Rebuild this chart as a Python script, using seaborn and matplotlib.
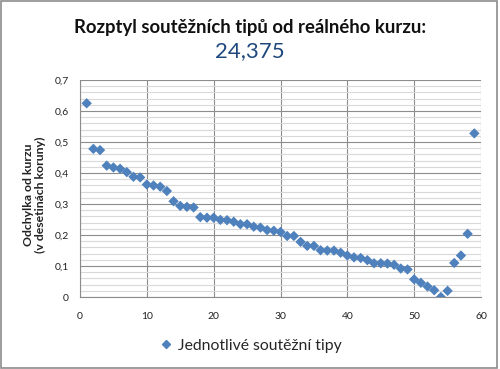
import matplotlib
matplotlib.use("Agg")
import matplotlib.pyplot as plt
import seaborn as sns
import pandas as pd
import numpy as np
from matplotlib.ticker import MultipleLocator, FuncFormatter
from matplotlib.patches import Rectangle

title = "Rozptyl soutěžních tipů od reálného kurzu:"
subtitle = "24,375"
series_name = "Jednotlivé soutěžní tipy"
y_label = "Odchylka od kurzu\n(v desetinách koruny)"

tip_index = list(range(1, 60))
deviation = [0.625, 0.478, 0.474, 0.424, 0.418, 0.414, 0.403, 0.388, 0.386, 0.363,
             0.360, 0.356, 0.342, 0.309, 0.294, 0.291, 0.289, 0.258, 0.256, 0.256,
             0.249, 0.248, 0.243, 0.235, 0.235, 0.227, 0.224, 0.216, 0.214, 0.210,
             0.197, 0.197, 0.178, 0.165, 0.165, 0.151, 0.150, 0.150, 0.143, 0.134,
             0.128, 0.126, 0.119, 0.109, 0.109, 0.108, 0.104, 0.092, 0.089, 0.057,
             0.046, 0.034, 0.022, 0.000, 0.020, 0.110, 0.134, 0.204, 0.528]

df = pd.DataFrame({"tip": tip_index, "odchylka": deviation, "serie": series_name})

sns.set_theme(style="white")
plt.rcParams['font.family'] = ['Lato', 'DejaVu Sans']

fig = plt.figure(figsize=(5, 3.69), dpi=100)
ax = fig.add_axes([0.16, 0.195, 0.802, 0.588])

color = "#4F81BD"
sns.scatterplot(data=df, x="tip", y="odchylka", hue="serie", palette=[color],
                marker="D", s=28, edgecolor=color, linewidth=0, ax=ax, legend=False, zorder=3)

ax.set_xlim(0, 60)
ax.set_ylim(0, 0.7)
ax.xaxis.set_major_locator(MultipleLocator(10))
ax.yaxis.set_major_locator(MultipleLocator(0.1))
ax.yaxis.set_minor_locator(MultipleLocator(0.02))
ax.grid(which="major", axis="both", color="#8C8C8C", linewidth=0.8)
ax.grid(which="minor", axis="y", color="#D9D9D9", linewidth=0.8)
ax.set_axisbelow(True)

fmt = FuncFormatter(lambda v, p: ("%g" % round(v, 2)).replace(".", ","))
ax.yaxis.set_major_formatter(fmt)
ax.tick_params(axis="both", which="major", labelsize=7.5, length=4, width=0.8,
               color="#8C8C8C", direction="out", labelcolor="#222222", pad=4)
ax.tick_params(axis="both", which="minor", length=0)
ax.tick_params(axis="x", pad=7)

for side in ["top", "right"]:
    ax.spines[side].set_visible(False)
for side in ["left", "bottom"]:
    ax.spines[side].set_color("#8C8C8C")
    ax.spines[side].set_linewidth(0.8)

ax.set_xlabel("")
ax.set_ylabel(y_label, fontsize=8.8, fontweight="bold", color="#222222",
              linespacing=1.15)
ax.yaxis.set_label_coords(-0.085, 0.47)

fig.text(0.5, 0.925, title, ha="center", va="center", fontsize=13.3, fontweight="bold",
         color="#111111")
fig.text(0.5, 0.862, subtitle, ha="center", va="center", fontsize=16, color="#1F497D")

handle = plt.Line2D([], [], marker="D", linestyle="none", color=color, markersize=4)
fig.legend([handle], [series_name], loc="center", bbox_to_anchor=(0.5, 0.063),
           frameon=False, fontsize=11.3, handletextpad=0.3, handlelength=1.0)

fig.patches.append(Rectangle((0.002, 0.003), 0.992, 0.994, transform=fig.transFigure,
                             fill=False, edgecolor="#8C8C8C", linewidth=1.2))

fig.savefig("out.png", dpi=100)
